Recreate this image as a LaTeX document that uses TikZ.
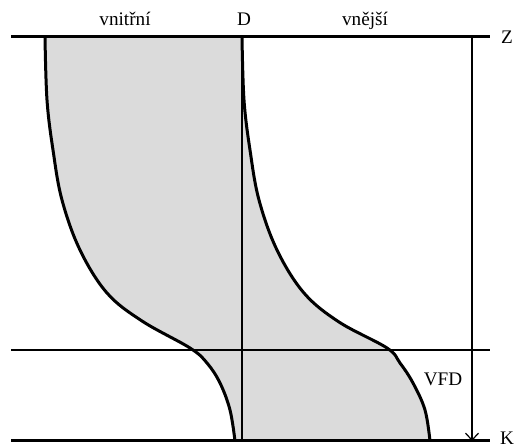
\documentclass[tikz,border=0pt]{standalone}
\usepackage{fontspec}
\setmainfont{Liberation Serif}
\usetikzlibrary{arrows.meta}

\begin{document}
\begin{tikzpicture}[x=0.5pt,y=-0.5pt,
			rim/.style={line width=1.5pt},
			thinline/.style={line width=0.6pt},
			lbl/.style={font=\fontsize{9.6}{11}\selectfont,inner sep=0pt},
			film/.style={fill=gray!28}]
			\useasboundingbox (0,0) rectangle (514,448);
			\coordinate (zl) at (11,37);
			\coordinate (zr) at (490,37);
			\coordinate (kl) at (11,441);
			\coordinate (kr) at (490,441);
			\coordinate (vl) at (11,350);
			\coordinate (vr) at (490,350);
			\coordinate (dtop) at (242,37);
			\coordinate (dbot) at (242,441);
			\coordinate (atop) at (472,37);
			\coordinate (abot) at (472,441);
			% shaded film between the two profiles
			\fill[film] plot[smooth,tension=0.6] coordinates {(45,37) (47,100) (53,150) (62,200) (80,250) (107,293) (142,321) (190,348) (207,363) (220,383) (230,410) (235,441)}
				-- plot[smooth,tension=0.6] coordinates {(430,441) (425,410) (413,383) (400,363) (387,348) (339,322) (304,293) (277,250) (259,200) (250,150) (244,100) (242,37)} -- cycle;
			\draw[thinline] (dtop) -- (dbot);
			\draw[thinline] (vl) -- (vr);
			\draw[rim] plot[smooth,tension=0.6] coordinates {(45,37) (47,100) (53,150) (62,200) (80,250) (107,293) (142,321) (190,348) (207,363) (220,383) (230,410) (235,441)};
			\draw[rim] plot[smooth,tension=0.6] coordinates {(242,37) (244,100) (250,150) (259,200) (277,250) (304,293) (339,322) (387,348) (400,363) (413,383) (425,410) (430,441)};
			\draw[rim] (zl) -- (zr);
			\draw[rim] (kl) -- (kr);
			\draw[thinline,-{Straight Barb[length=3.5pt,width=6.5pt]}] (atop) -- (abot);
			\node[lbl,anchor=base] (inner) at (125,26) {vnitřní};
			\node[lbl,anchor=base] (d) at (244,26) {D};
			\node[lbl,anchor=base] (outer) at (365,26) {vnější};
			\node[lbl] (z) at (507,37) {Z};
			\node[lbl] (k) at (507,438) {K};
			\node[lbl] (vfd) at (443,379) {VFD};
		\end{tikzpicture}
\end{document}
